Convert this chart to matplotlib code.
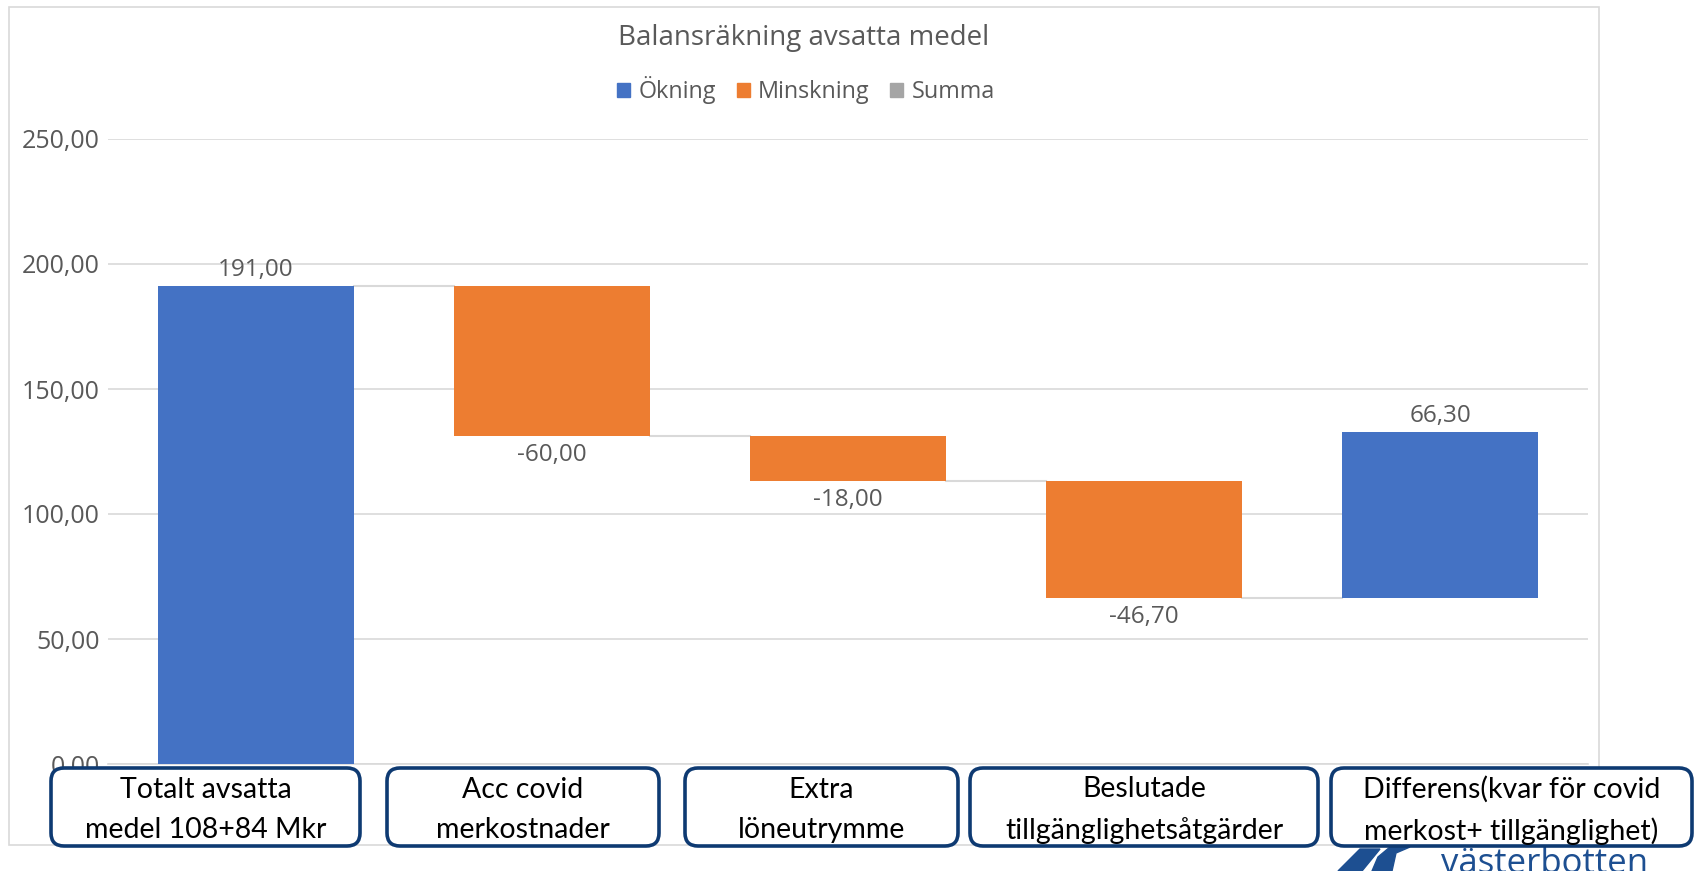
import matplotlib
matplotlib.use('Agg')
import matplotlib.pyplot as plt
from matplotlib.patches import Patch, FancyBboxPatch, Rectangle, Polygon

plt.rcParams['font.family'] = ['Open Sans', 'DejaVu Sans']

# data
categories = ['Totalt avsatta\nmedel 108+84 Mkr', 'Acc covid\nmerkostnader', 'Extra\nlöneutrymme',
              'Beslutade\ntillgänglighetsåtgärder', 'Differens(kvar för covid\nmerkost+ tillgänglighet)']
values = [191.0, -60.0, -18.0, -46.7, 66.3]
yticks = [0, 50, 100, 150, 200, 250]
legend_labels = ['Ökning', 'Minskning', 'Summa']

BLUE = '#4472C4'
ORANGE = '#ED7D31'
GRAY = '#A5A5A5'
TEXT = '#595959'
GRID = '#D9D9D9'
NAVY = '#0E3A72'

# label box layout in pixels (x0, x1)
box_x = [(51, 360), (387, 659), (685, 958), (970, 1318), (1331, 1692)]


def fmt(v):
    return f'{v:.2f}'.replace('.', ',')


def main():
    fig = plt.figure(figsize=(16.94, 8.71), dpi=100)
    W, H = 1694, 871
    ax = fig.add_axes([108 / W, 107 / H, 1480 / W, 625 / H])

    # outer chart border
    fig.add_artist(Rectangle((9 / W, 26 / H), 1590 / W, 838 / H, transform=fig.transFigure,
                             fill=False, edgecolor=GRID, lw=1.2))

    width = 0.663
    running = 0.0
    tops = []
    for i, v in enumerate(values):
        if v >= 0:
            bottom, height, color = running, v, BLUE
        else:
            bottom, height, color = running + v, -v, ORANGE
        ax.bar(i, height, bottom=bottom, width=width, color=color, zorder=3)
        if v >= 0:
            ax.annotate(fmt(v), (i, bottom + height), xytext=(0, 3), textcoords='offset points',
                        ha='center', va='bottom', fontsize=17.5, color=TEXT)
        else:
            ax.annotate(fmt(v), (i, bottom), xytext=(0, -5), textcoords='offset points',
                        ha='center', va='top', fontsize=17.5, color=TEXT)
        running += v
        tops.append(running)

    # connectors
    for i in range(len(values) - 1):
        ax.plot([i + width / 2, i + 1 - width / 2], [tops[i], tops[i]], color=GRID, lw=1.5, zorder=2)

    ax.set_xlim(-0.5, len(values) - 0.5)
    ax.set_ylim(0, 250)
    ax.set_yticks(yticks)
    ax.set_yticklabels([fmt(t) for t in yticks], fontsize=18, color=TEXT)
    ax.tick_params(axis='y', length=0, pad=6)
    ax.set_xticks([])
    ax.grid(axis='y', color=GRID, lw=1.2, zorder=0)
    for s in ['top', 'right', 'left']:
        ax.spines[s].set_visible(False)
    ax.spines['bottom'].set_color(GRID)
    ax.spines['bottom'].set_linewidth(1.2)

    fig.text(804 / W, 1 - 38 / H, 'Balansräkning avsatta medel', ha='center', va='center',
             fontsize=20, color=TEXT)

    handles = [Patch(color=c) for c in [BLUE, ORANGE, GRAY]]
    fig.legend(handles, legend_labels, loc='center', bbox_to_anchor=(806 / W, 1 - 90 / H), ncol=3,
               frameon=False, fontsize=16.8, labelcolor=TEXT, handlelength=0.55, handleheight=0.55,
               handletextpad=0.35, columnspacing=0.9)

    # category boxes below the plot
    for (x0, x1), label in zip(box_x, categories):
        fig.add_artist(FancyBboxPatch((x0 / 100, 25 / 100), (x1 - x0) / 100, 0.78,
                                      boxstyle='round,pad=0,rounding_size=0.13',
                                      transform=fig.dpi_scale_trans, facecolor='white',
                                      edgecolor=NAVY, lw=2.6, zorder=5))
        fig.text((x0 + x1) / 2 / W, 61 / H, label, ha='center', va='center', fontsize=20.5,
                 color='black', linespacing=1.65, zorder=6,
                 family=['Lato', 'DejaVu Sans'])

    # logo fragment, cut at the bottom edge
    fig.add_artist(Polygon([(1338 / W, 0), (1362 / W, 0), (1380 / W, 22 / H), (1360 / W, 22 / H)],
                           closed=True, transform=fig.transFigure, color='#1D4F91', zorder=4))
    fig.add_artist(Polygon([(1372 / W, 0), (1392 / W, 0), (1396 / W, 18 / H), (1410 / W, 24 / H),
                            (1390 / W, 24 / H), (1378 / W, 14 / H)],
                           closed=True, transform=fig.transFigure, color='#1D4F91', zorder=4))
    fig.text(1441 / W, -2 / H, 'västerbotten', ha='left', va='baseline', fontsize=25,
             color='#1D4F91', zorder=4)

    fig.savefig('out.png', dpi=100)


if __name__ == '__main__':
    main()
